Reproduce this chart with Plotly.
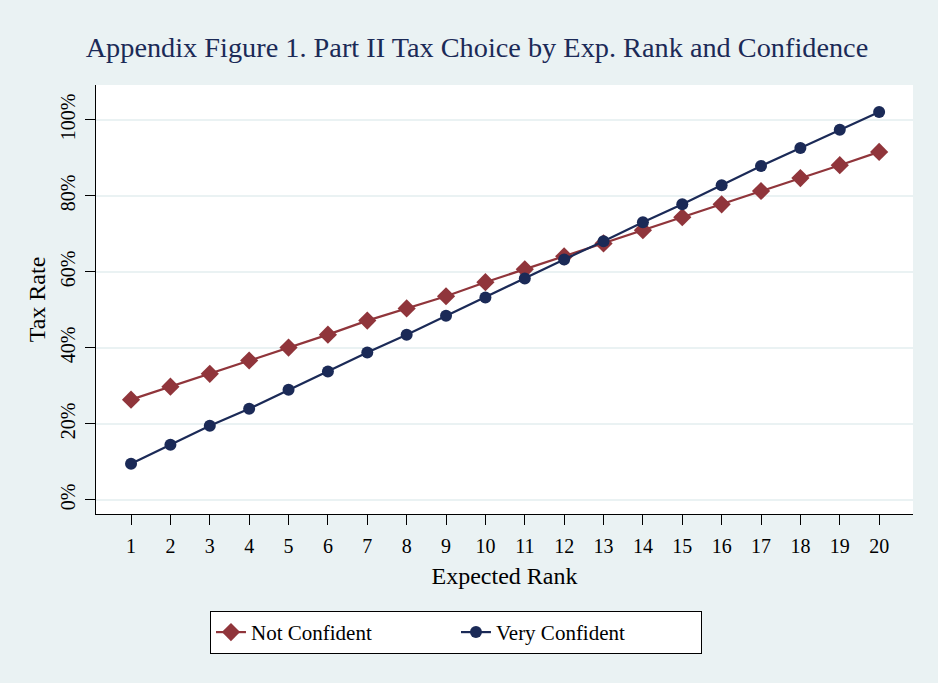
import plotly.graph_objects as go

# expected rank 1..20
ranks = list(range(1, 21))

# tax rate chosen (%)
not_confident = [26.4, 29.8, 33.2, 36.7, 40.1, 43.5, 47.2, 50.4, 53.6, 57.3,
                 60.7, 64.1, 67.5, 71.0, 74.4, 77.8, 81.3, 84.7, 88.1, 91.6]
very_confident = [9.5, 14.5, 19.5, 24.0, 29.0, 33.8, 38.8, 43.5, 48.5, 53.3,
                  58.3, 63.3, 68.1, 73.1, 77.8, 82.8, 87.9, 92.6, 97.4, 102.1]

y_ticks = [0, 20, 40, 60, 80, 100]
y_labels = ["0%", "20%", "40%", "60%", "80%", "100%"]

red = "#90353b"
navy = "#1b2a57"
bg = "#eaf2f3"

fig = go.Figure()
fig.add_trace(go.Scatter(
    x=ranks, y=not_confident, name="Not Confident", mode="lines+markers",
    line=dict(color=red, width=2.2),
    marker=dict(symbol="diamond", size=14, color=red),
))
fig.add_trace(go.Scatter(
    x=ranks, y=very_confident, name="Very Confident", mode="lines+markers",
    line=dict(color=navy, width=2.2),
    marker=dict(symbol="circle", size=12, color=navy),
))

fig.update_layout(
    width=938, height=683,
    paper_bgcolor=bg, plot_bgcolor="white",
    font=dict(family="Liberation Serif", size=20, color="black"),
    title=dict(text="Appendix Figure 1. Part II Tax Choice by Exp. Rank and Confidence",
               x=0.5085, xanchor="center", y=0.931, yanchor="middle",
               font=dict(size=28.3, color=navy)),
    margin=dict(l=96, r=25, t=85, b=169),
    legend=dict(orientation="h", x=0.1395, xanchor="left", y=-0.226, yanchor="top",
                bgcolor="white", bordercolor="black", borderwidth=1,
                font=dict(size=21), entrywidth=200, entrywidthmode="pixels"),
)

fig.update_xaxes(
    range=[0.11, 20.86], tickvals=ranks, ticks="outside", ticklen=10,
    tickcolor="black", showline=True, linecolor="black", linewidth=1.2,
    showgrid=False, zeroline=False, ticklabelstandoff=4,
    title=dict(text="Expected Rank", standoff=11, font=dict(size=24)),
)
fig.update_yaxes(
    range=[-3.7, 109.2], tickvals=y_ticks, ticktext=y_labels, tickangle=-90,
    ticks="outside", ticklen=10, tickcolor="black", showline=True,
    linecolor="black", linewidth=1.2, showgrid=True, gridcolor=bg, gridwidth=2,
    zeroline=False, ticklabelstandoff=2,
    title=dict(text="Tax Rate", standoff=4, font=dict(size=24)),
)

# drop the page margin so the figure sits at the window corner
fig.write_html("out.html", config={"displayModeBar": False},
               post_script="document.body.style.margin='0';")
